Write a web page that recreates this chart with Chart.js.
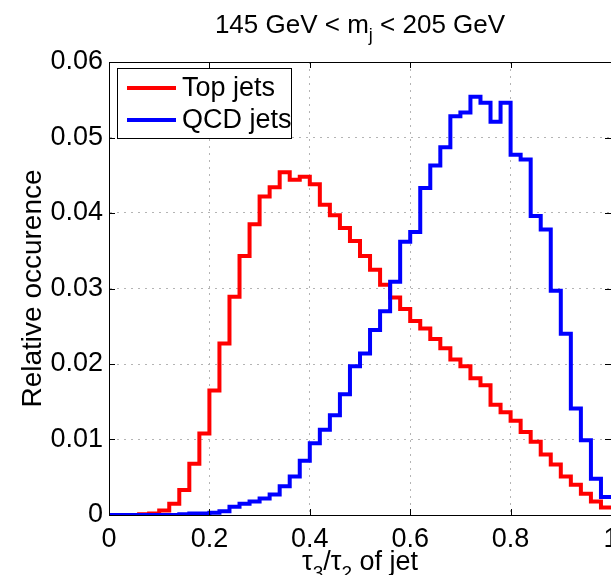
<!DOCTYPE html>
<html lang="en">
<head>
<meta charset="UTF-8">
<title>tau32 histogram</title>
<script src="https://cdn.jsdelivr.net/npm/chart.js@4.4.0/dist/chart.umd.min.js"></script>
<style>
    body {
        margin: 0;
        padding: 0;
        overflow: hidden;
        background: #fff;
    }
</style>
</head>
<body>
<canvas id="myChart" width="640" height="575"></canvas>
<script>
    // bin edges of tau3/tau2 (50 bins of 0.02)
    const binEdges = [0, 0.02, 0.04, 0.06, 0.08, 0.1, 0.12, 0.14, 0.16, 0.18,
        0.2, 0.22, 0.24, 0.26, 0.28, 0.3, 0.32, 0.34, 0.36, 0.38,
        0.4, 0.42, 0.44, 0.46, 0.48, 0.5, 0.52, 0.54, 0.56, 0.58,
        0.6, 0.62, 0.64, 0.66, 0.68, 0.7, 0.72, 0.74, 0.76, 0.78,
        0.8, 0.82, 0.84, 0.86, 0.88, 0.9, 0.92, 0.94, 0.96, 0.98, 1];

    const topJets = [0, 0, 0, 0.0001, 0.0002, 0.0006, 0.0015, 0.0033, 0.0068, 0.0108,
        0.0165, 0.0227, 0.0289, 0.0343, 0.0385, 0.0422, 0.0434, 0.0454, 0.0444, 0.0448,
        0.0438, 0.0411, 0.0397, 0.0380, 0.0363, 0.0343, 0.0325, 0.0305, 0.0288, 0.0273,
        0.0257, 0.0247, 0.0233, 0.0221, 0.0206, 0.0197, 0.0181, 0.0172, 0.0146, 0.0136,
        0.0125, 0.0110, 0.0097, 0.0080, 0.0067, 0.0051, 0.0040, 0.0028, 0.0018, 0.0010];

    const qcdJets = [0, 0, 0, 0, 0, 0, 0, 0.0001, 0.0002, 0.0002,
        0.0003, 0.0005, 0.0011, 0.0015, 0.0018, 0.0022, 0.0027, 0.0038, 0.0051, 0.0072,
        0.0095, 0.0113, 0.0132, 0.0160, 0.0197, 0.0214, 0.0245, 0.0270, 0.0309, 0.0362,
        0.0375, 0.0433, 0.0463, 0.0487, 0.0528, 0.0533, 0.0554, 0.0546, 0.0521, 0.0546,
        0.0477, 0.0471, 0.0396, 0.0378, 0.0297, 0.0240, 0.0141, 0.0099, 0.0048, 0.0024];

    const xTicks = [0, 0.2, 0.4, 0.6, 0.8, 1];
    const yTicks = [0, 0.01, 0.02, 0.03, 0.04, 0.05, 0.06];

    const FONT = '"Liberation Sans Narrow", "Liberation Sans", Arial, sans-serif';

    // histogram outline: each bin gives a flat segment from left to right edge
    function steps(values) {
        const pts = [];
        for (let i = 0; i < values.length; i++) {
            pts.push({x: binEdges[i], y: values[i]});
            pts.push({x: binEdges[i + 1], y: values[i]});
        }
        return pts;
    }

    // draw text made of pieces (for subscripts)
    function drawRuns(ctx, runs, cx, baseline) {
        let total = 0;
        runs.forEach(r => {
            ctx.font = r.size + 'px ' + FONT;
            r.w = ctx.measureText(r.t).width;
            total += r.w;
        });
        let x = cx - total / 2;
        ctx.textAlign = 'left';
        ctx.textBaseline = 'alphabetic';
        runs.forEach(r => {
            ctx.font = r.size + 'px ' + FONT;
            ctx.fillText(r.t, x, baseline + r.dy);
            x += r.w;
        });
    }

    const frameAndText = {
        id: 'frameAndText',
        afterDraw(chart) {
            const ctx = chart.ctx;
            const a = chart.chartArea;
            const xs = chart.scales.x;
            const ys = chart.scales.y;
            ctx.save();
            ctx.strokeStyle = '#000';
            ctx.lineWidth = 1;
            ctx.strokeRect(a.left + 0.5, a.top + 0.5, a.right - a.left, a.bottom - a.top);

            // inward tick marks like matlab
            ctx.beginPath();
            xTicks.forEach(v => {
                const px = Math.round(xs.getPixelForValue(v)) + 0.5;
                ctx.moveTo(px, a.bottom); ctx.lineTo(px, a.bottom - 6);
                ctx.moveTo(px, a.top); ctx.lineTo(px, a.top + 6);
            });
            yTicks.forEach(v => {
                const py = Math.round(ys.getPixelForValue(v)) + 0.5;
                ctx.moveTo(a.left, py); ctx.lineTo(a.left + 6, py);
                ctx.moveTo(a.right, py); ctx.lineTo(a.right - 6, py);
            });
            ctx.stroke();

            // legend box
            const lx = 117, ly = 68, lw = 174, lh = 70;
            ctx.fillStyle = '#fff';
            ctx.fillRect(lx, ly, lw, lh);
            ctx.strokeRect(lx + 0.5, ly + 0.5, lw, lh);
            chart.data.datasets.forEach((ds, i) => {
                const rowY = ly + 20 + i * 32;
                ctx.strokeStyle = ds.borderColor;
                ctx.lineWidth = 4;
                ctx.beginPath();
                ctx.moveTo(127, rowY);
                ctx.lineTo(176, rowY);
                ctx.stroke();
                ctx.fillStyle = '#000';
                ctx.font = '27px ' + FONT;
                ctx.textAlign = 'left';
                ctx.textBaseline = 'middle';
                ctx.fillText(ds.label, 182, rowY + 1);
            });

            ctx.fillStyle = '#000';
            // title
            drawRuns(ctx, [
                {t: '145 GeV < m', size: 26, dy: 0},
                {t: 'j', size: 18, dy: 8},
                {t: ' < 205 GeV', size: 26, dy: 0}
            ], (a.left + a.right) / 2, 33);

            // x axis label
            drawRuns(ctx, [
                {t: '\u03c4', size: 27, dy: 0},
                {t: '3', size: 19, dy: 9},
                {t: '/\u03c4', size: 27, dy: 0},
                {t: '2', size: 19, dy: 9},
                {t: ' of jet', size: 27, dy: 0}
            ], (a.left + a.right) / 2, 570);

            // y axis label
            ctx.translate(41, (a.top + a.bottom) / 2);
            ctx.rotate(-Math.PI / 2);
            ctx.font = '28px ' + FONT;
            ctx.textAlign = 'center';
            ctx.textBaseline = 'alphabetic';
            ctx.fillText('Relative occurence', 0, 0);
            ctx.restore();
        }
    };

    const fmt = v => (Math.abs(v) < 1e-9 ? '0' : String(+v.toFixed(2)));

    const ctx = document.getElementById('myChart').getContext('2d');
    const myChart = new Chart(ctx, {
        type: 'line',
        data: {
            datasets: [{
                label: 'Top jets',
                data: steps(topJets),
                borderColor: '#ff0000',
                borderWidth: 4,
                pointRadius: 0,
                order: 1
            }, {
                label: 'QCD jets',
                data: steps(qcdJets),
                borderColor: '#0000ff',
                borderWidth: 4,
                pointRadius: 0,
                order: 0
            }]
        },
        options: {
            responsive: false,
            animation: false,
            events: [],
            layout: {
                padding: {top: 62, right: 29, bottom: 0, left: 0}
            },
            plugins: {
                legend: {display: false},
                tooltip: {enabled: false}
            },
            scales: {
                x: {
                    type: 'linear',
                    min: 0,
                    max: 1,
                    afterFit: s => { s.height = 60; },
                    afterBuildTicks: s => { s.ticks = xTicks.map(v => ({value: v})); },
                    ticks: {
                        callback: fmt,
                        color: '#000',
                        padding: 8,
                        maxRotation: 0,
                        font: {family: FONT, size: 27}
                    },
                    grid: {color: '#b4b4b4', lineWidth: 1, drawTicks: false},
                    border: {display: true, color: '#000', dash: [2, 5]}
                },
                y: {
                    min: 0,
                    max: 0.06,
                    afterFit: s => { s.width = 109; },
                    afterBuildTicks: s => { s.ticks = yTicks.map(v => ({value: v})); },
                    ticks: {
                        callback: fmt,
                        color: '#000',
                        padding: 6,
                        font: {family: FONT, size: 27}
                    },
                    grid: {color: '#b4b4b4', lineWidth: 1, drawTicks: false},
                    border: {display: true, color: '#000', dash: [2, 5]}
                }
            }
        },
        plugins: [frameAndText]
    });
</script>
</body>
</html>
